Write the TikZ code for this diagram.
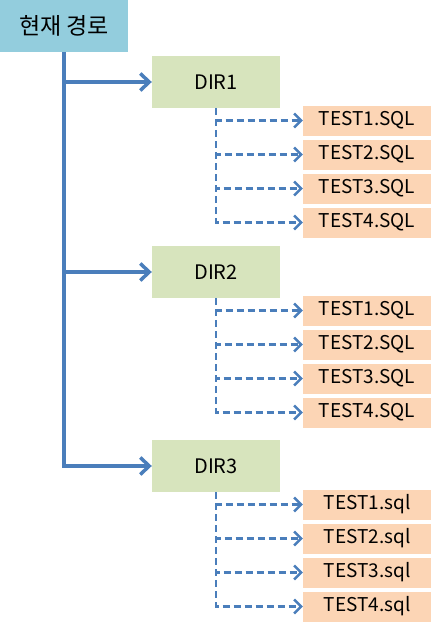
\documentclass[tikz,border=0pt]{standalone}
\usepackage{fontspec}
\setmainfont{Noto Sans CJK KR}
\usetikzlibrary{arrows.meta, positioning, calc}
\definecolor{rootfill}{HTML}{93CDDD}
\definecolor{dirfill}{HTML}{D7E4BD}
\definecolor{filefill}{HTML}{FCD5B5}
\definecolor{linkblue}{HTML}{4A7EBB}
\tikzset{
  rootbox/.style={
    rectangle, fill=rootfill, minimum width=128pt,
    minimum height=52pt, font=\fontsize{23}{26}\selectfont, inner sep=0pt
  },
  dirbox/.style={
    rectangle, fill=dirfill, minimum width=128pt,
    minimum height=52pt, font=\fontsize{20}{23}\selectfont, inner sep=0pt
  },
  filebox/.style={
    rectangle, fill=filefill, minimum width=128pt,
    minimum height=30pt, font=\fontsize{19}{22}\selectfont, inner sep=0pt
  },
  trunkarr/.style={-{Straight Barb[length=9pt, width=17pt]},
    line width=3.5pt, draw=linkblue},
  filearr/.style={-{Straight Barb[length=7pt, width=14pt]},
    line width=2.5pt, draw=linkblue, dash pattern=on 7pt off 4pt}
}

\begin{document}
\begin{tikzpicture}[x=1pt, y=-1pt]
\useasboundingbox (0,0) rectangle (431,629);

% -- Root --------------------------------------------------
\node[rootbox] (root) at (64,26) {현재 경로};

% -- Directories -------------------------------------------
\node[dirbox] (dir1) at (216,82)  {DIR1};
\node[dirbox] (dir2) at (216,272) {DIR2};
\node[dirbox] (dir3) at (216,466) {DIR3};

% -- Trunk and branches ------------------------------------
\draw[trunkarr] (root.south) |- (dir3.west);
\draw[trunkarr] (root.south |- dir1.west) -- (dir1.west);
\draw[trunkarr] (root.south |- dir2.west) -- (dir2.west);

% -- Files -------------------------------------------------
\foreach \d/\ext in {1/SQL, 2/SQL, 3/sql} {
  \foreach \f in {1,...,4} {
    \node[filebox] (file\d\f) at ($(dir\d)+(151,4.5+34*\f)$) {TEST\f.\ext};
    \draw[filearr] (dir\d.south) |- (file\d\f.west);
  }
}

\end{tikzpicture}
\end{document}
